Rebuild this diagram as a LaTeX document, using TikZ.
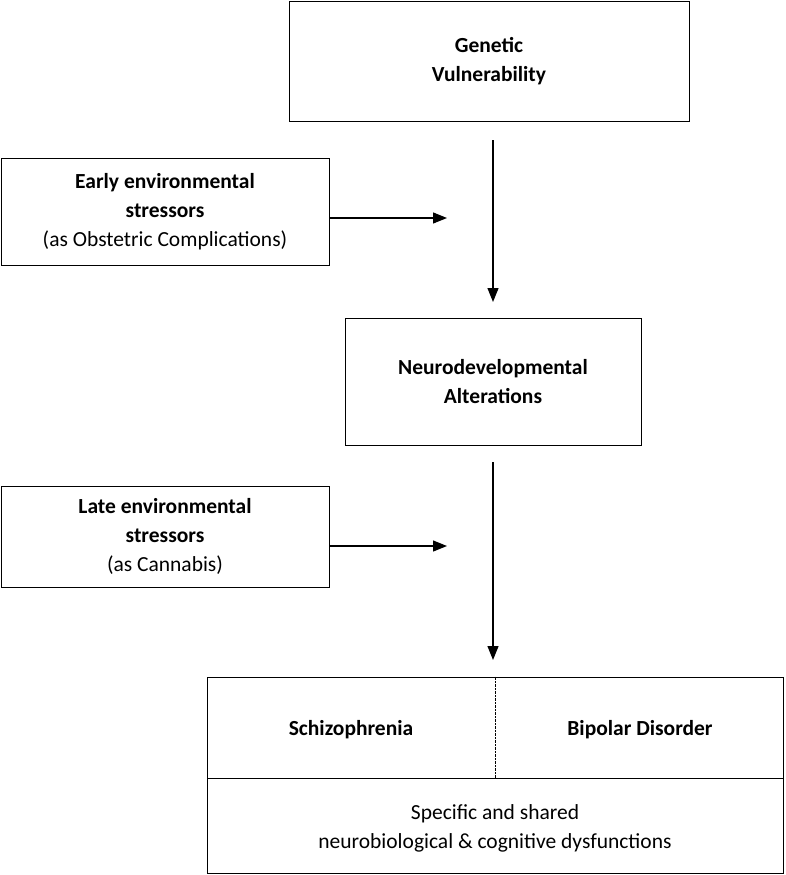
\documentclass[tikz,border=0pt]{standalone}
\usepackage{fontspec}
\setmainfont{Carlito}
\usetikzlibrary{arrows.meta,positioning}
\begin{document}
\begin{tikzpicture}[
  x=1pt,y=-1pt,
  font=\fontsize{21.5}{29}\selectfont,
  mybox/.style={
    draw,
    thick,
    rectangle,
    align=center,
    inner sep=0pt
    },
  myarrow/.style={-{Triangle[length=14pt,width=11pt]}, very thick}
]
\useasboundingbox (0,0) rectangle (785,875);
% boxes
\node [mybox, minimum width=400pt, minimum height=120pt] (gen) at (489,61) {\textbf{Genetic}\\\textbf{Vulnerability}};
\node [mybox, minimum width=328pt, minimum height=107pt] (early) at (165,211.5) {\textbf{Early environmental}\\\textbf{stressors}\\(as Obstetric Complications)};
\node [mybox, minimum width=296pt, minimum height=127pt] (neuro) at (493,381.5) {\textbf{Neurodevelopmental}\\\textbf{Alterations}};
\node [mybox, minimum width=328pt, minimum height=101pt] (late) at (165,536.5) {\textbf{Late environmental}\\\textbf{stressors}\\(as Cannabis)};
\node [mybox, minimum width=576pt, minimum height=196pt] (dis) at (495,775) {};
\coordinate (mid) at (207,778);
\draw [thick] (mid) -- (dis.east |- mid);
\draw [densely dotted] (dis.north) -- (dis.north |- mid);
\node (schizo) at (351,730) {\textbf{Schizophrenia}};
\node (bipolar) at (640,730) {\textbf{Bipolar Disorder}};
\node [align=center] (dysf) at (495,828) {Specific and shared\\neurobiological \& cognitive dysfunctions};
% connectors
\coordinate (e1) at (447,218);
\coordinate (e2) at (447,546);
\coordinate (v1) at (493,140);
\coordinate (v2) at (493,302);
\coordinate (v3) at (493,462);
\coordinate (v4) at (493,660);
\draw [myarrow] (early.east |- e1) -- (e1);
\draw [myarrow] (late.east |- e2) -- (e2);
\draw [myarrow] (v1) -- (v2);
\draw [myarrow] (v3) -- (v4);
\end{tikzpicture}
\end{document}
